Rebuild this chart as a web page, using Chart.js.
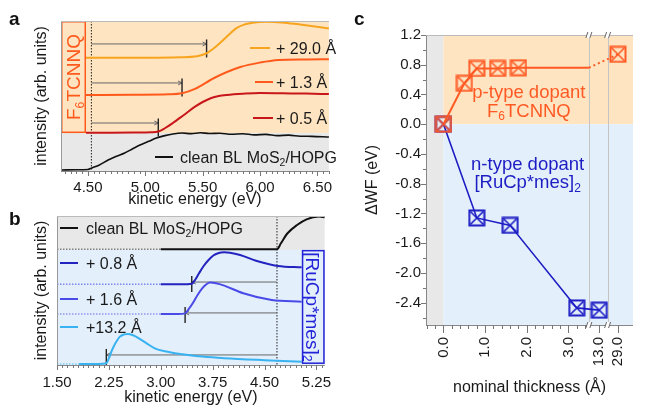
<!DOCTYPE html>
<html>
<head>
<meta charset="utf-8">
<script src="https://cdn.jsdelivr.net/npm/chart.js@4.4.1/dist/chart.umd.min.js"></script>
<style>
  body { margin: 0; background: #fff; width: 648px; height: 408px; overflow: hidden; position: relative; font-family: "Liberation Sans", Arial, sans-serif; }
  .panel { position: absolute; }
  .tag { position: absolute; font-weight: bold; font-size: 19px; line-height: 19px; color: #111; }
</style>
</head>
<body>
<div class="panel" style="left:0;top:0;width:340px;height:210px"><canvas id="chart-a"></canvas></div>
<div class="panel" style="left:0;top:200px;width:340px;height:208px"><canvas id="chart-b"></canvas></div>
<div class="panel" style="left:340px;top:0;width:308px;height:408px"><canvas id="chart-c"></canvas></div>
<div class="tag" style="left:9px;top:9px">a</div>
<div class="tag" style="left:9px;top:209px">b</div>
<div class="tag" style="left:354px;top:9px">c</div>
<script>
const FAM = '"Liberation Sans", Arial, sans-serif';
Chart.defaults.font.family = FAM;
Chart.defaults.color = "#1a1a1a";
Chart.defaults.animation = false;

const ORANGE_BG = "#fee4c1";
const BLUE_BG = "#e3effb";
const GREY_BG = "#e8e8e8";

// ---------- panel a : F6TCNNQ on BL MoS2/HOPG ----------
const aTicks = [4.5, 5.0, 5.5, 6.0, 6.5];
const aCleanE = [4.27, 4.40, 4.50, 4.534, 4.60, 4.676, 4.75, 4.82, 4.89, 4.954, 5.03, 5.097, 5.17, 5.24, 5.32, 5.40, 5.48, 5.56, 5.65, 5.75, 5.85, 5.95, 6.05, 6.15, 6.25, 6.35, 6.45, 6.6];
const aCleanI = [0.7, 0.8, 1.0, 2.0, 4.0, 7.3, 9.8, 12.0, 14.8, 17.3, 19.8, 22.0, 23.6, 24.7, 25.3, 24.9, 25.5, 25.0, 25.2, 24.5, 24.8, 24.1, 24.4, 23.6, 23.9, 23.2, 23.1, 22.7];
const a05E = [4.483, 4.7, 4.9, 5.05, 5.113, 5.17, 5.24, 5.33, 5.43, 5.5, 5.575, 5.64, 5.71, 5.85, 6.0, 6.2, 6.4, 6.6];
const a05I = [25.5, 25.5, 25.6, 25.8, 26.3, 28.5, 32.0, 37.0, 42.7, 46.0, 48.7, 50.0, 50.7, 51.5, 52.0, 51.8, 51.6, 51.3];
const a13E = [4.483, 4.9, 5.2, 5.32, 5.433, 5.60, 5.828, 6.0, 6.164, 6.4, 6.6];
const a13I = [50.7, 50.8, 51.1, 51.8, 54.7, 62.0, 69.3, 72.3, 74.0, 74.4, 74.5];
const a29E = [4.483, 5.0, 5.3, 5.45, 5.534, 5.60, 5.66, 5.73, 5.794, 5.87, 5.937, 6.046, 6.214, 6.382, 6.6];
const a29I = [75.5, 75.5, 75.8, 76.5, 78.5, 82.0, 86.0, 91.0, 95.3, 97.8, 98.9, 99.5, 98.9, 97.3, 95.0];
const aOnset = [5.113, 5.32, 5.534];      // +0.5, +1.3, +29.0 Å
const aArrowI = [32.0, 58.7, 84.7];
const aCut = 4.53;                        // onset of clean sample
const aSplit = 25.3;                      // lower edge of the F6TCNNQ band

// ---------- panel b : [RuCp*mes]2 on BL MoS2/HOPG ----------
const bTicks = [1.5, 2.25, 3.0, 3.75, 4.5, 5.25];
const bCleanE = [3.0, 4.0, 4.682, 4.737, 4.833, 4.97, 5.108, 5.286, 5.37];
const bCleanI = [77.1, 77.1, 77.2, 81.1, 87.8, 93.3, 97.1, 98.9, 98.5];
const b08E = [3.0, 3.3, 3.448, 3.50, 3.553, 3.62, 3.691, 3.76, 3.828, 3.918, 4.0, 4.147, 4.377, 4.696, 5.039];
const b08I = [53.8, 53.8, 54.2, 57.0, 61.1, 66.0, 70.0, 73.0, 74.5, 75.1, 74.8, 73.3, 69.5, 66.0, 65.1];
const b16E = [3.0, 3.25, 3.352, 3.40, 3.462, 3.53, 3.599, 3.66, 3.713, 3.8, 3.918, 4.193, 4.604, 5.039];
const b16I = [34.0, 34.0, 34.4, 37.0, 41.1, 46.5, 51.1, 53.8, 54.9, 54.5, 52.9, 47.8, 43.3, 42.2];
const b132E = [1.82, 2.1, 2.213, 2.25, 2.296, 2.35, 2.409, 2.47, 2.525, 2.6, 2.684, 2.8, 2.913, 3.1, 3.279, 3.6, 3.918, 4.5, 5.039];
const b132I = [0.7, 0.7, 1.2, 4.5, 10.0, 15.0, 18.9, 20.4, 20.7, 19.8, 17.8, 14.3, 11.1, 8.8, 7.3, 5.6, 4.5, 3.2, 2.2];
const bOnset = [3.448, 3.352, 2.213];     // +0.8, +1.6, +13.2 Å
const bArrowI = [55.3, 34.7, 6.7];
const bCut = 4.68;
const bSplit = 76.7;

// ---------- panel c : work function change ----------
const cTickPos = [0, 1, 2, 3, 3.74, 4.19];
const cTickLabels = ["0.0", "1.0", "2.0", "3.0", "13.0", "29.0"];
const cBreaks = [3.49, 3.94];
const cYTicks = [1.2, 0.8, 0.4, 0.0, -0.4, -0.8, -1.2, -1.6, -2.0, -2.4];
const pThick = [0, 0.5, 0.8, 1.3, 1.8, 29.0];
const pDWF = [0, 0.55, 0.75, 0.75, 0.76, 0.94];
const nThick = [0, 0.8, 1.6, 3.2, 13.0];
const nDWF = [0, -1.26, -1.36, -2.47, -2.50];

const C_ORANGE = "#ff5a24";
const C_BLUE = "#1d1dc4";

function axisPos(t) {
  if (t <= 3.4) return t;
  return cTickPos[cTickLabels.indexOf(t.toFixed(1))];
}
const pts = (xs, ys) => xs.map((x, i) => ({ x, y: ys[i] }));

function rich(ctx, parts, x, y, size, color, align) {
  ctx.save();
  ctx.fillStyle = color;
  ctx.textBaseline = "alphabetic";
  let w = 0;
  parts.forEach(p => { ctx.font = (p[1] ? size * 0.65 : size) + "px " + FAM; w += ctx.measureText(p[0]).width; });
  let cx = align === "center" ? x - w / 2 : x;
  parts.forEach(p => {
    const s = p[1] ? size * 0.65 : size;
    ctx.font = s + "px " + FAM;
    ctx.fillText(p[0], cx, y + (p[1] ? size * 0.2 : 0));
    cx += ctx.measureText(p[0]).width;
  });
  ctx.restore();
}
function richRot(ctx, parts, cx, cy, size, color, ang) {
  ctx.save();
  ctx.translate(cx, cy);
  ctx.rotate(ang);
  rich(ctx, parts, 0, size * 0.36, size, color, "center");
  ctx.restore();
}
function line(ctx, x1, y1, x2, y2, color, w, dash) {
  ctx.save();
  ctx.strokeStyle = color; ctx.lineWidth = w; ctx.setLineDash(dash || []);
  ctx.beginPath(); ctx.moveTo(x1, y1); ctx.lineTo(x2, y2); ctx.stroke();
  ctx.restore();
}
function onsetArrow(ctx, xFrom, xTo, y, yTop, yBot) {
  line(ctx, xFrom, y, xTo, y, "#666", 1);
  const d = xTo > xFrom ? -1 : 1;
  line(ctx, xTo, y, xTo + d * 4, y - 2, "#666", 1);
  line(ctx, xTo, y, xTo + d * 4, y + 2, "#666", 1);
  line(ctx, xTo, yTop, xTo, yBot, "#222", 1.4);
}
function axisTicks(ctx, scale, values, len, vertical) {
  values.forEach(v => {
    const p = Math.round(scale.getPixelForValue(v)) + 0.5;
    if (vertical) line(ctx, scale.right, p, scale.right - len, p, "#777", 1);
    else line(ctx, p, scale.top, p, scale.top + len, "#777", 1);
  });
}
function steps(from, to, step) {
  const out = [];
  for (let v = from; v <= to + 1e-9; v += step) out.push(Math.round(v * 1000) / 1000);
  return out;
}
function curve(data, color, extra) {
  return Object.assign({ data, borderColor: color, borderWidth: 2, pointRadius: 0, tension: 0.4, cubicInterpolationMode: "monotone", fill: false }, extra || {});
}
function xScale(min, max, ticks, fmt, pad, h, title) {
  return {
    type: "linear", min, max,
    afterBuildTicks: s => { s.ticks = ticks.map(v => ({ value: v })); },
    afterFit: s => { s.height = h; },
    ticks: { font: { size: 15 }, padding: pad, maxRotation: 0, minRotation: 0, callback: v => v.toFixed(fmt), color: "#1a1a1a" },
    grid: { display: false, drawTicks: false },
    border: { display: false },
    title: { display: true, text: title, font: { size: 16 }, padding: { top: 0, bottom: 1 }, color: "#1a1a1a" },
  };
}
function yScaleBlank(max, w, titlePad) {
  return {
    type: "linear", min: 0, max,
    afterFit: s => { s.width = w; },
    ticks: { display: false },
    grid: { display: false, drawTicks: false },
    border: { display: false },
    title: { display: true, text: "intensity (arb. units)", font: { size: 16 }, padding: { top: titlePad, bottom: 0 }, color: "#1a1a1a" },
  };
}
const baseOpts = {
  responsive: true, maintainAspectRatio: false, devicePixelRatio: 1,
  plugins: { legend: { display: false }, tooltip: { enabled: false } },
};

// ---------- chart a ----------
new Chart(document.getElementById("chart-a"), {
  type: "line",
  data: {
    datasets: [
      curve(pts(a29E, a29I), "#f7a51e"),
      curve(pts(a13E, a13I), "#ff5a1c"),
      curve(pts(a05E, a05I), "#c8171b"),
      curve(pts(aCleanE, aCleanI), "#111", { borderWidth: 1.6, tension: 0.2 }),
    ],
  },
  options: Object.assign({}, baseOpts, {
    layout: { padding: { top: 21, left: 0, right: 0, bottom: 0 }, autoPadding: false },
    scales: {
      x: xScale(4.265, 6.6, aTicks, 2, 8, 39, "kinetic energy (eV)"),
      y: yScaleBlank(100, 61, 32),
    },
  }),
  plugins: [{
    id: "decorA",
    beforeDatasetsDraw(chart) {
      const { ctx, chartArea: ca, scales: { x, y } } = chart;
      const ys = y.getPixelForValue(aSplit);
      ctx.fillStyle = ORANGE_BG; ctx.fillRect(ca.left, ca.top, ca.right - ca.left, ys - ca.top);
      ctx.fillStyle = GREY_BG; ctx.fillRect(ca.left, ys, ca.right - ca.left, ca.bottom - ys);
      const xc = x.getPixelForValue(aCut);
      line(ctx, xc, ca.top, xc, ca.bottom, "#222", 1, [1.5, 1.5]);
      aOnset.forEach((e, i) => {
        const yy = y.getPixelForValue(aArrowI[i]);
        onsetArrow(ctx, xc, x.getPixelForValue(e), yy, yy - 4.5, yy + 13.5);
      });
    },
    afterDatasetsDraw(chart) {
      const { ctx, chartArea: ca, scales: { x, y } } = chart;
      // F6TCNNQ box
      const bx = x.getPixelForValue(a05E[0]);
      const ys = y.getPixelForValue(aSplit);
      ctx.fillStyle = ORANGE_BG; ctx.fillRect(ca.left, ca.top, bx - ca.left, ys - ca.top);
      ctx.strokeStyle = "#ff5a1c"; ctx.lineWidth = 1.5;
      ctx.strokeRect(ca.left + 0.75, ca.top + 0.75, bx - ca.left - 1.5, ys - ca.top - 1.5);
      richRot(ctx, [["F"], ["6", 1], ["TCNNQ"]], (ca.left + bx) / 2, (ca.top + ys) / 2, 19, "#ff5a1c", -Math.PI / 2);
      // frame
      line(ctx, ca.left + 0.5, ca.top, ca.left + 0.5, ca.bottom, "#999", 1);
      line(ctx, ca.left, ca.top + 0.5, ca.right, ca.top + 0.5, "#bbb", 1);
      line(ctx, ca.left, ca.bottom + 0.5, ca.right, ca.bottom + 0.5, "#888", 1);
      axisTicks(ctx, x, steps(4.3, 6.6, 0.05), 3);
      axisTicks(ctx, x, aTicks, 5);
      // legend
      const leg = [
        ["#f7a51e", 250, 270, 48, 276, [["+ 29.0 Å"]]],
        ["#ff5a1c", 255, 273, 82, 276, [["+ 1.3 Å"]]],
        ["#c8171b", 253, 273, 118, 276, [["+ 0.5 Å"]]],
        ["#111", 155, 173, 157, 180, [["clean BL MoS"], ["2", 1], ["/HOPG"]]],
      ];
      leg.forEach(l => {
        line(ctx, l[1], l[3], l[2], l[3], l[0], 2);
        rich(ctx, l[5], l[4], l[3] + 5.7, 16, "#1a1a1a", "left");
      });
    },
  }],
});

// ---------- chart b ----------
const dotted = (data, color) => ({ data: [{ x: 1.5, y: data[0].y }, data[0]], borderColor: color, borderWidth: 1.5, borderDash: [1.5, 1.5], pointRadius: 0, fill: false });
const bSeries = [
  [pts(bCleanE, bCleanI), "#111", "rgba(60,60,60,0.6)"],
  [pts(b08E, b08I), "#2323c0", "rgba(60,60,220,0.6)"],
  [pts(b16E, b16I), "#4a4ae8", "rgba(90,90,235,0.6)"],
  [pts(b132E, b132I), "#38b2f0", "rgba(60,180,240,0.6)"],
];
const bSets = [];
bSeries.forEach(s => { bSets.push(curve(s[0], s[1])); bSets.push(dotted(s[0], s[2])); });

new Chart(document.getElementById("chart-b"), {
  type: "line",
  data: { datasets: bSets },
  options: Object.assign({}, baseOpts, {
    layout: { padding: { top: 16, left: 0, right: 0, bottom: 0 }, autoPadding: false },
    scales: {
      x: xScale(1.5, 5.37, bTicks, 2, 9, 43, "kinetic energy (eV)"),
      y: yScaleBlank(99.3, 57, 32.4),
    },
  }),
  plugins: [{
    id: "decorB",
    beforeDatasetsDraw(chart) {
      const { ctx, chartArea: ca, scales: { x, y } } = chart;
      const ys = y.getPixelForValue(bSplit);
      ctx.fillStyle = GREY_BG; ctx.fillRect(ca.left, ca.top, ca.right - ca.left, ys - ca.top);
      ctx.fillStyle = BLUE_BG; ctx.fillRect(ca.left, ys, ca.right - ca.left, ca.bottom - ys);
      const xc = x.getPixelForValue(bCut);
      line(ctx, xc, ca.top, xc, ca.bottom, "#222", 1, [1.5, 1.5]);
      bOnset.forEach((e, i) => {
        const yy = y.getPixelForValue(bArrowI[i]);
        onsetArrow(ctx, xc, x.getPixelForValue(e), yy, yy - 6, yy + 10);
      });
    },
    afterDatasetsDraw(chart) {
      const { ctx, chartArea: ca, scales: { x, y } } = chart;
      const bx = x.getPixelForValue(b08E[b08E.length - 1]);
      const yt = y.getPixelForValue(bSplit), yb = y.getPixelForValue(b132I[0]);
      ctx.fillStyle = BLUE_BG; ctx.fillRect(bx, yt, ca.right - bx, yb - yt);
      ctx.strokeStyle = "#2323d8"; ctx.lineWidth = 1.5;
      ctx.strokeRect(bx + 0.75, yt + 0.75, ca.right - bx - 1.5, yb - yt - 1.5);
      richRot(ctx, [["[RuCp*mes]"], ["2", 1]], (bx + ca.right) / 2, (yt + yb) / 2, 19, "#2323d8", Math.PI / 2);
      line(ctx, ca.left + 0.5, ca.top, ca.left + 0.5, ca.bottom, "#999", 1);
      line(ctx, ca.left, ca.top + 0.5, ca.right, ca.top + 0.5, "#bbb", 1);
      line(ctx, ca.left, ca.bottom + 0.5, ca.right, ca.bottom + 0.5, "#888", 1);
      axisTicks(ctx, x, steps(1.5, 5.35, 0.075), 3);
      axisTicks(ctx, x, bTicks, 5);
      const leg = [
        ["#111", 28, [["clean BL MoS"], ["2", 1], ["/HOPG"]]],
        ["#2323c0", 63, [["+ 0.8 Å"]]],
        ["#4a4ae8", 99, [["+ 1.6 Å"]]],
        ["#38b2f0", 127, [["+13.2 Å"]]],
      ];
      leg.forEach(l => {
        line(ctx, 60, l[1], 78, l[1], l[0], 2);
        rich(ctx, l[2], 86, l[1] + 5.7, 16, "#1a1a1a", "left");
      });
    },
  }],
});

// ---------- chart c ----------
function boxX(color) {
  const c = document.createElement("canvas");
  c.width = c.height = 18;
  const g = c.getContext("2d");
  g.strokeStyle = color; g.lineWidth = 2;
  g.strokeRect(1.5, 1.5, 15, 15);
  g.lineWidth = 1.6;
  g.beginPath(); g.moveTo(2.5, 2.5); g.lineTo(15.5, 15.5); g.moveTo(15.5, 2.5); g.lineTo(2.5, 15.5); g.stroke();
  return c;
}
const mkP = boxX(C_ORANGE), mkN = boxX(C_BLUE);
const pPts = pts(pThick.map(axisPos), pDWF);
const nPts = pts(nThick.map(axisPos), nDWF);
const pLast = pPts[pPts.length - 1], pPrev = pPts[pPts.length - 2];
const pBreak = { x: cBreaks[0], y: pPrev.y };

new Chart(document.getElementById("chart-c"), {
  type: "line",
  data: {
    datasets: [
      { data: pPts.slice(0, -1), borderColor: C_ORANGE, borderWidth: 2, pointStyle: mkP, pointRadius: 9, tension: 0 },
      { data: [pLast], showLine: false, pointStyle: mkP, pointRadius: 9 },
      { data: [pPrev, pBreak], borderColor: C_ORANGE, borderWidth: 2, pointRadius: 0 },
      { data: [pBreak, pLast], borderColor: C_ORANGE, borderWidth: 2, borderDash: [2, 3], pointRadius: 0 },
      { data: nPts, borderColor: C_BLUE, borderWidth: 1.6, pointStyle: mkN, pointRadius: 9, tension: 0 },
    ],
  },
  options: Object.assign({}, baseOpts, {
    layout: { padding: { top: 35, left: 0, right: 0, bottom: 0 }, autoPadding: false },
    scales: {
      x: {
        type: "linear", min: -0.42, max: 4.55,
        afterBuildTicks: s => { s.ticks = cTickPos.map(v => ({ value: v })); },
        afterFit: s => { s.height = 83; },
        ticks: { font: { size: 15 }, padding: 12, minRotation: 90, maxRotation: 90, autoSkip: false,
          callback: (v, i) => cTickLabels[i], color: "#1a1a1a" },
        grid: { display: false, drawTicks: false },
        border: { display: false },
        title: { display: true, text: "nominal thickness (Å)", font: { size: 16 }, padding: { top: 0, bottom: 11 }, color: "#1a1a1a" },
      },
      y: {
        type: "linear", min: -2.7, max: 1.2,
        afterBuildTicks: s => { s.ticks = cYTicks.map(v => ({ value: v })); },
        afterFit: s => { s.width = 86; },
        ticks: { font: { size: 15 }, padding: 5, callback: v => v.toFixed(1), color: "#1a1a1a" },
        grid: { display: false, drawTicks: false },
        border: { display: false },
        title: { display: true, text: "ΔWF (eV)", font: { size: 16 }, padding: { top: 23, bottom: 0 }, color: "#1a1a1a" },
      },
    },
  }),
  plugins: [{
    id: "decorC",
    beforeDatasetsDraw(chart) {
      const { ctx, chartArea: ca, scales: { x, y } } = chart;
      const x0 = x.getPixelForValue(0), y0 = y.getPixelForValue(0);
      ctx.fillStyle = GREY_BG; ctx.fillRect(ca.left, ca.top, x0 - ca.left, ca.bottom - ca.top);
      ctx.fillStyle = ORANGE_BG; ctx.fillRect(x0, ca.top, ca.right - x0, y0 - ca.top);
      ctx.fillStyle = BLUE_BG; ctx.fillRect(x0, y0, ca.right - x0, ca.bottom - y0);
      cBreaks.forEach(b => {
        const p = Math.round(x.getPixelForValue(b)) + 0.5;
        line(ctx, p, ca.top, p, ca.bottom, "#c4c4c4", 1);
      });
      rich(ctx, [["p-type dopant"]], x.getPixelForValue(2.05), y.getPixelForValue(0.44) + 6.5, 18.5, C_ORANGE, "center");
      rich(ctx, [["F"], ["6", 1], ["TCNNQ"]], x.getPixelForValue(2.05), y.getPixelForValue(0.19) + 6.5, 18.5, C_ORANGE, "center");
      rich(ctx, [["n-type dopant"]], x.getPixelForValue(2.02), y.getPixelForValue(-0.53) + 6.5, 18.5, C_BLUE, "center");
      rich(ctx, [["[RuCp*mes]"], ["2", 1]], x.getPixelForValue(2.02), y.getPixelForValue(-0.77) + 6.5, 18.5, C_BLUE, "center");
    },
    afterDatasetsDraw(chart) {
      const { ctx, chartArea: ca, scales: { x, y } } = chart;
      line(ctx, ca.left + 0.5, ca.top, ca.left + 0.5, ca.bottom, "#888", 1);
      line(ctx, ca.left, ca.top + 0.5, ca.right, ca.top + 0.5, "#bbb", 1);
      line(ctx, ca.left, ca.bottom + 0.5, ca.right, ca.bottom + 0.5, "#888", 1);
      // y ticks (left, outward)
      steps(-2.6, 1.0, 0.4).forEach(v => { const p = Math.round(y.getPixelForValue(v)) + 0.5; line(ctx, ca.left, p, ca.left - 3, p, "#777", 1); });
      cYTicks.forEach(v => { const p = Math.round(y.getPixelForValue(v)) + 0.5; line(ctx, ca.left, p, ca.left - 5, p, "#777", 1); });
      // x ticks (down)
      steps(-0.4, 3.4, 0.2).forEach(v => { const p = Math.round(x.getPixelForValue(v)) + 0.5; line(ctx, p, ca.bottom, p, ca.bottom + 4, "#777", 1); });
      cTickPos.forEach(v => { const p = Math.round(x.getPixelForValue(v)) + 0.5; line(ctx, p, ca.bottom, p, ca.bottom + 8, "#777", 1); });
      // axis break marks
      cBreaks.forEach(b => {
        const p = x.getPixelForValue(b);
        [ca.top, ca.bottom].forEach(yy => {
          ctx.fillStyle = "#fff"; ctx.fillRect(p - 2, yy - 3, 4, 6);
          line(ctx, p - 3, yy + 3, p - 1, yy - 3, "#666", 1);
          line(ctx, p + 1, yy + 3, p + 3, yy - 3, "#666", 1);
        });
      });
    },
  }],
});
</script>
</body>
</html>
